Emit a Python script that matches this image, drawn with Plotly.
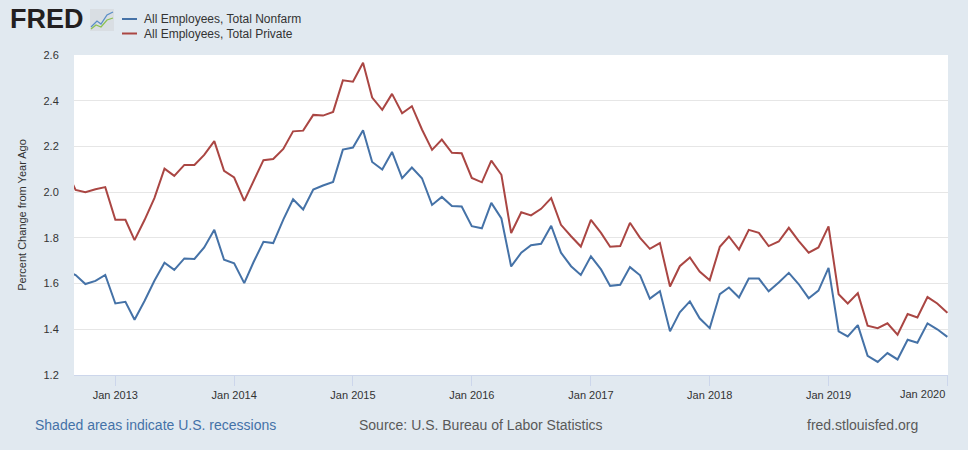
import pandas as pd
import plotly.graph_objects as go

# monthly, Aug 2012 - Jan 2020 (percent change from year ago)
months = pd.date_range("2012-08-01", "2020-01-01", freq="MS")

nonfarm = [
    1.66, 1.637, 1.598, 1.612, 1.638,
    1.513, 1.520, 1.442, 1.525, 1.612, 1.691, 1.660, 1.710, 1.708, 1.758, 1.835, 1.704,
    1.689, 1.602, 1.692, 1.783, 1.777, 1.880, 1.969, 1.924, 2.011, 2.029, 2.045, 2.186,
    2.195, 2.271, 2.132, 2.099, 2.176, 2.061, 2.108, 2.061, 1.944, 1.979, 1.939, 1.937,
    1.851, 1.842, 1.953, 1.885, 1.675, 1.735, 1.768, 1.774, 1.853, 1.735, 1.676, 1.638,
    1.719, 1.662, 1.590, 1.595, 1.672, 1.636, 1.534, 1.567, 1.391, 1.474, 1.522, 1.448,
    1.405, 1.554, 1.583, 1.539, 1.622, 1.622, 1.566, 1.605, 1.647, 1.598, 1.536, 1.569,
    1.669, 1.391, 1.369, 1.418, 1.284, 1.257, 1.296, 1.268, 1.354, 1.341, 1.426, 1.400,
    1.367,
]

private = [
    2.10, 2.010, 2.000, 2.013, 2.022,
    1.879, 1.879, 1.790, 1.879, 1.974, 2.103, 2.071, 2.119, 2.119, 2.163, 2.223, 2.093,
    2.064, 1.962, 2.049, 2.140, 2.145, 2.189, 2.266, 2.269, 2.338, 2.335, 2.351, 2.489,
    2.483, 2.566, 2.414, 2.360, 2.430, 2.345, 2.376, 2.274, 2.185, 2.230, 2.172, 2.170,
    2.062, 2.043, 2.138, 2.076, 1.821, 1.912, 1.898, 1.927, 1.974, 1.857, 1.807, 1.762,
    1.879, 1.822, 1.761, 1.764, 1.866, 1.800, 1.752, 1.777, 1.587, 1.676, 1.714, 1.653,
    1.615, 1.761, 1.806, 1.749, 1.835, 1.822, 1.764, 1.784, 1.844, 1.787, 1.735, 1.758,
    1.850, 1.553, 1.513, 1.558, 1.416, 1.405, 1.426, 1.376, 1.467, 1.452, 1.541, 1.513,
    1.472,
]

names = ["All Employees, Total Nonfarm", "All Employees, Total Private"]
colors = ["#4572a7", "#aa4643"]
ytick_vals = [1.2, 1.4, 1.6, 1.8, 2.0, 2.2, 2.4, 2.6]
xtick_vals = ["2013-01-01", "2014-01-01", "2015-01-01", "2016-01-01",
              "2017-01-01", "2018-01-01", "2019-01-01", "2020-01-01"]
xtick_text = ["Jan 2013", "Jan 2014", "Jan 2015", "Jan 2016",
              "Jan 2017", "Jan 2018", "Jan 2019", "Jan 2020"]

W, H = 968, 450
L, R, T, B = 74, 20, 55, 75
FONT = "Liberation Sans, Arial, sans-serif"


def px(x):
    return (x - L) / (W - L - R)


def py(y):
    return (H - B - y) / (H - T - B)


fig = go.Figure()
for vals, name, col in zip([nonfarm, private], names, colors):
    fig.add_trace(go.Scatter(x=months, y=vals, name=name, mode="lines",
                             line=dict(color=col, width=2), showlegend=False))

shapes = []
annotations = []

# legend (drawn by hand to get FRED's short line samples)
for i, (name, col) in enumerate(zip(names, colors)):
    yy = 19 + i * 14.5
    shapes.append(dict(type="line", xref="paper", yref="paper",
                       x0=px(122), x1=px(137), y0=py(yy), y1=py(yy),
                       line=dict(color=col, width=2)))
    annotations.append(dict(text=name, xref="paper", yref="paper",
                            x=px(142), y=py(yy), xanchor="left", yanchor="middle",
                            showarrow=False, font=dict(size=12, color="#333333")))

# FRED logo
annotations.append(dict(text="<b>FRED</b>", xref="paper", yref="paper",
                        x=px(8), y=py(19), xanchor="left", yanchor="middle",
                        showarrow=False, font=dict(size=27, color="#231f20", family=FONT)))
shapes.append(dict(type="rect", xref="paper", yref="paper",
                   x0=px(90), x1=px(114), y0=py(31), y1=py(9),
                   fillcolor="#d9dee3", line=dict(width=0)))
shapes.append(dict(type="path", xref="paper", yref="paper",
                   path="M {} {} L {} {} L {} {} L {} {} L {} {}".format(
                       px(91), py(27), px(97), py(21), px(101), py(24), px(107), py(15), px(113), py(12)),
                   line=dict(color="#5b8fc7", width=1.3)))
shapes.append(dict(type="path", xref="paper", yref="paper",
                   path="M {} {} L {} {} L {} {} L {} {} L {} {}".format(
                       px(91), py(29), px(96), py(25), px(101), py(27), px(107), py(20), px(113), py(18)),
                   line=dict(color="#8cc152", width=1.3)))

# last tick label sits flush with the right edge, as on FRED
annotations.append(dict(text=xtick_text[-1], xref="x", yref="paper",
                        x=xtick_vals[-1], y=py(394), xanchor="right", yanchor="middle",
                        showarrow=False, font=dict(size=11, color="#333333")))

# footer
annotations.append(dict(text="Shaded areas indicate U.S. recessions", xref="paper", yref="paper",
                        x=px(33), y=py(425), xanchor="left", yanchor="middle", showarrow=False,
                        font=dict(size=14, color="#4472a8")))
annotations.append(dict(text="Source: U.S. Bureau of Labor Statistics", xref="paper", yref="paper",
                        x=px(357), y=py(425), xanchor="left", yanchor="middle", showarrow=False,
                        font=dict(size=14, color="#595959")))
annotations.append(dict(text="fred.stlouisfed.org", xref="paper", yref="paper",
                        x=px(805), y=py(425), xanchor="left", yanchor="middle", showarrow=False,
                        font=dict(size=14, color="#595959")))

fig.update_layout(
    width=W, height=H,
    margin=dict(l=L, r=R, t=T, b=B),
    paper_bgcolor="#e1e9f0",
    plot_bgcolor="#ffffff",
    font=dict(family=FONT, color="#333333", size=11),
    shapes=shapes,
    annotations=annotations,
    xaxis=dict(
        range=["2012-08-27", "2020-01-03"],
        tickvals=xtick_vals, ticktext=xtick_text[:-1] + [""],
        showgrid=False, zeroline=False,
        ticks="outside", ticklen=10, tickcolor="#ccd6eb",
        showline=True, linecolor="#ccd6eb", linewidth=1,
        tickfont=dict(size=11, color="#333333"),
    ),
    yaxis=dict(
        range=[1.2, 2.6], tickvals=ytick_vals, tickformat=".1f",
        showgrid=True, gridcolor="#e6e6e6", gridwidth=1, zeroline=False,
        ticks="outside", ticklen=12, tickcolor="rgba(0,0,0,0)",
        showline=False,
        tickfont=dict(size=11, color="#333333"),
        title=dict(text="Percent Change from Year Ago", font=dict(size=11, color="#333333"),
                   standoff=14),
    ),
)

fig.write_html("out.html", config={"displayModeBar": False},
               post_script="document.body.style.margin='0';")
